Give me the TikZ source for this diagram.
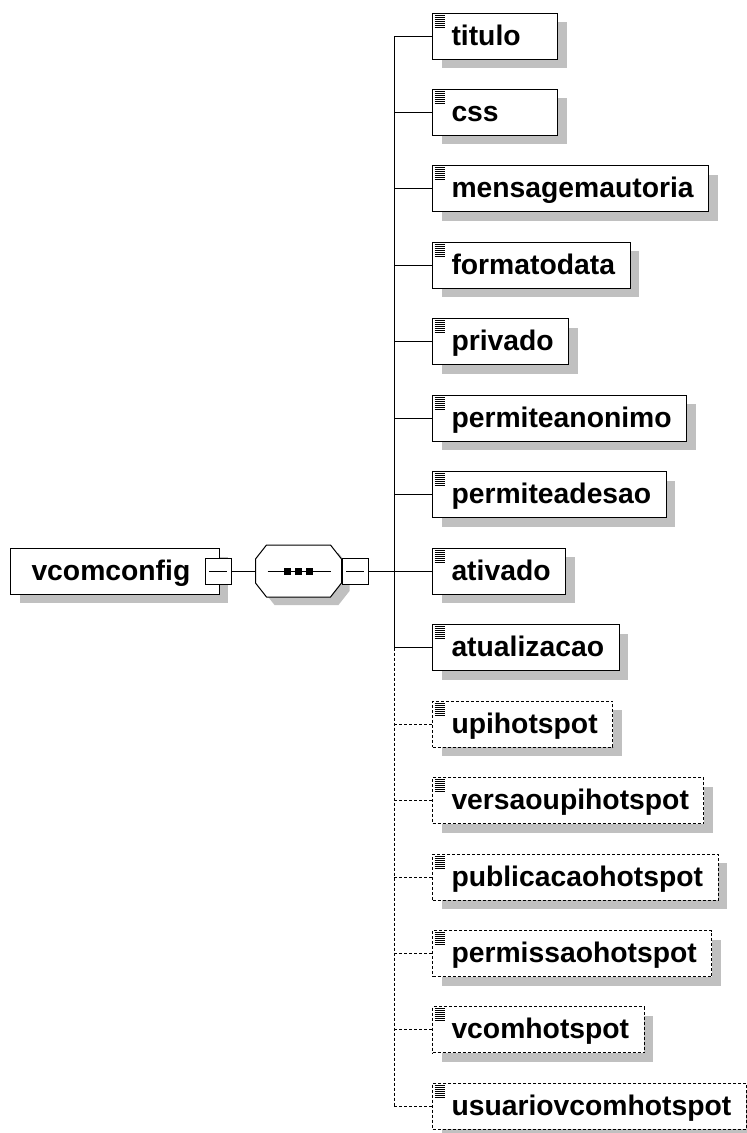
\documentclass[tikz,border=0pt]{standalone}
\usepackage{fontspec}
\setmainfont{Liberation Sans}
\usetikzlibrary{positioning, shadows}
\definecolor{shadowgrey}{RGB}{192,192,192}

% element label: left padding, short names get a minimum box
\newcommand{\elname}[1]{\setbox0\hbox{#1}%
  \ifdim\wd0<91pt\makebox[125pt][l]{\hspace*{19pt}#1}%
  \else\hspace*{19pt}#1\hspace*{15pt}\fi}

% octagon outline round a node
\newcommand{\octpath}[1]{([xshift=11pt]#1.north west) -- ([xshift=-11pt]#1.north east)
  -- ([yshift=-14pt]#1.north east) -- ([yshift=14pt]#1.south east)
  -- ([xshift=-11pt]#1.south east) -- ([xshift=11pt]#1.south west)
  -- ([yshift=14pt]#1.south west) -- ([yshift=-14pt]#1.north west) -- cycle}

\tikzset{
  boxshadow/.style={drop shadow={shadow xshift=9pt, shadow yshift=-9pt,
      fill=shadowgrey, opacity=1}},
  elem/.style={draw, fill=white, anchor=west, inner sep=0pt,
      minimum height=46pt, text height=21pt, text depth=3pt,
      font=\fontsize{28.3}{30}\selectfont\bfseries, boxshadow,
      path picture={
        \foreach \k in {1,...,7}
          \draw[solid, line width=1pt]
            ([xshift=2pt, yshift=-2*\k pt]path picture bounding box.north west)
            -- ++(10pt,0pt);
      }},
  optelem/.style={elem, dash pattern=on 3pt off 2pt},
  optline/.style={dash pattern=on 3pt off 2pt},
  rootbox/.style={draw, fill=white, anchor=west, inner sep=0pt,
      minimum height=46pt, text height=21pt, text depth=3pt,
      font=\fontsize{28.3}{30}\selectfont\bfseries, boxshadow},
  collapse/.style={draw, fill=white, minimum size=26pt, inner sep=0pt,
      drop shadow={shadow xshift=1.3pt, shadow yshift=-1.3pt, fill=black, opacity=1},
      path picture={
        \draw ([xshift=4pt]path picture bounding box.west)
          -- ([xshift=-4pt]path picture bounding box.east);
      }},
  seqbox/.style={inner sep=0pt, minimum width=85pt, minimum height=51pt}
}

\begin{document}
\begin{tikzpicture}[x=1pt, y=-1pt, line width=1pt]
  \useasboundingbox (0,0) rectangle (747,1133);

  % root element and sequence compositor
  \node[rootbox] (root) at (10,571) {\hspace*{21pt}vcomconfig\hspace*{29pt}};
  \node[collapse] (sqroot) at (218,571) {};
  \node[seqbox] (seq) at (298.5,571) {};
  \fill[shadowgrey, transform canvas={shift={(8pt,-8pt)}}] \octpath{seq};
  \draw[fill=white] \octpath{seq};
  \draw ([xshift=12pt]seq.west) -- ([xshift=-11pt]seq.east);
  \foreach \dx in {-11,0,11}
    \fill[black] ([xshift=\dx pt]seq.center) +(-3.5pt,-3.5pt) rectangle +(3.5pt,3.5pt);
  \node[collapse] (sqseq) at (355,571) {};
  \coordinate (trunk) at (394,571);

  % child elements
  \foreach \name [count=\i] in {titulo, css, mensagemautoria, formatodata,
      privado, permiteanonimo, permiteadesao, ativado, atualizacao}
    \node[elem] (e\i) at (432, {36+(\i-1)*76.46}) {\elname{\name}};
  \foreach \name [count=\i from 10] in {upihotspot, versaoupihotspot,
      publicacaohotspot, permissaohotspot, vcomhotspot, usuariovcomhotspot}
    \node[optelem] (e\i) at (432, {36+(\i-1)*76.46}) {\elname{\name}};

  % connectors
  \draw (sqroot.east) -- (seq.west);
  \draw (sqseq.east) -- (trunk);
  \draw (e1.west -| trunk) -- (e9.west -| trunk);
  \draw[optline] (e9.west -| trunk) -- (e15.west -| trunk);
  \foreach \i in {1,...,9}
    \draw (e\i.west -| trunk) -- (e\i.west);
  \foreach \i in {10,...,15}
    \draw[optline] (e\i.west -| trunk) -- (e\i.west);
\end{tikzpicture}
\end{document}
